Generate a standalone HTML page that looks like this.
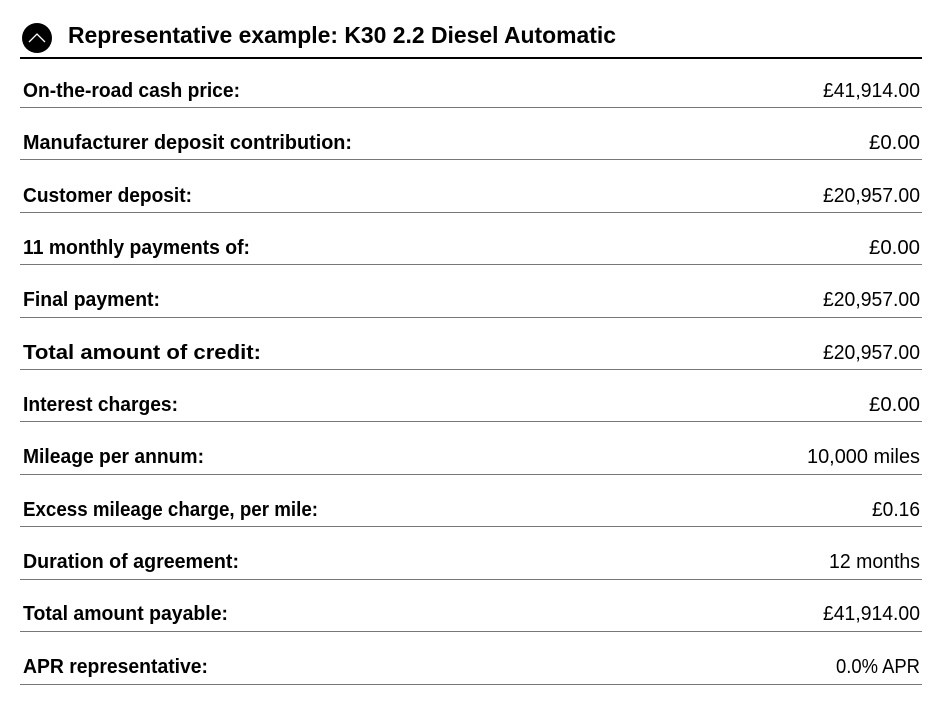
<!DOCTYPE html>
<html><head><meta charset="utf-8"><style>
html,body{margin:0;padding:0;background:#fff;}
svg{display:block;}
text{font-family:"Liberation Sans",sans-serif;fill:#000;font-size:20.5px;}
.l{font-weight:bold;}
</style></head><body>
<svg width="943" height="711" viewBox="0 0 943 711" xmlns="http://www.w3.org/2000/svg">
<circle cx="37" cy="38" r="15" fill="#000"/>
<polyline points="29,42 37,34 45,42" fill="none" stroke="#fff" stroke-width="1.3"/>
<text x="68" y="43" class="l" style="font-size:23.5px" textLength="548" lengthAdjust="spacingAndGlyphs">Representative example: K30 2.2 Diesel Automatic</text>
<rect x="20" y="57" width="902" height="2" fill="#000"/>
<g stroke="#777" stroke-width="1">
<line x1="20" x2="922" y1="107.5" y2="107.5"/>
<line x1="20" x2="922" y1="159.5" y2="159.5"/>
<line x1="20" x2="922" y1="212.5" y2="212.5"/>
<line x1="20" x2="922" y1="264.5" y2="264.5"/>
<line x1="20" x2="922" y1="317.5" y2="317.5"/>
<line x1="20" x2="922" y1="369.5" y2="369.5"/>
<line x1="20" x2="922" y1="421.5" y2="421.5"/>
<line x1="20" x2="922" y1="474.5" y2="474.5"/>
<line x1="20" x2="922" y1="526.5" y2="526.5"/>
<line x1="20" x2="922" y1="579.5" y2="579.5"/>
<line x1="20" x2="922" y1="631.5" y2="631.5"/>
<line x1="20" x2="922" y1="684.5" y2="684.5"/>
</g>
<g class="l">
<text class="l" x="23" y="97" textLength="217" lengthAdjust="spacingAndGlyphs">On-the-road cash price:</text>
<text class="l" x="23" y="149" textLength="329" lengthAdjust="spacingAndGlyphs">Manufacturer deposit contribution:</text>
<text class="l" x="23" y="202" textLength="169" lengthAdjust="spacingAndGlyphs">Customer deposit:</text>
<text class="l" x="23" y="254" textLength="227" lengthAdjust="spacingAndGlyphs">11 monthly payments of:</text>
<text class="l" x="23" y="306" textLength="137" lengthAdjust="spacingAndGlyphs">Final payment:</text>
<text class="l" x="23" y="359" textLength="238" lengthAdjust="spacingAndGlyphs">Total amount of credit:</text>
<text class="l" x="23" y="411" textLength="155" lengthAdjust="spacingAndGlyphs">Interest charges:</text>
<text class="l" x="23" y="463" textLength="181" lengthAdjust="spacingAndGlyphs">Mileage per annum:</text>
<text class="l" x="23" y="516" textLength="295" lengthAdjust="spacingAndGlyphs">Excess mileage charge, per mile:</text>
<text class="l" x="23" y="568" textLength="216" lengthAdjust="spacingAndGlyphs">Duration of agreement:</text>
<text class="l" x="23" y="620" textLength="205" lengthAdjust="spacingAndGlyphs">Total amount payable:</text>
<text class="l" x="23" y="673" textLength="185" lengthAdjust="spacingAndGlyphs">APR representative:</text>
</g>
<g>
<text x="823" y="97" textLength="97" lengthAdjust="spacingAndGlyphs">£41,914.00</text>
<text x="869" y="149" textLength="51" lengthAdjust="spacingAndGlyphs">£0.00</text>
<text x="823" y="202" textLength="97" lengthAdjust="spacingAndGlyphs">£20,957.00</text>
<text x="869" y="254" textLength="51" lengthAdjust="spacingAndGlyphs">£0.00</text>
<text x="823" y="306" textLength="97" lengthAdjust="spacingAndGlyphs">£20,957.00</text>
<text x="823" y="359" textLength="97" lengthAdjust="spacingAndGlyphs">£20,957.00</text>
<text x="869" y="411" textLength="51" lengthAdjust="spacingAndGlyphs">£0.00</text>
<text x="807" y="463" textLength="113" lengthAdjust="spacingAndGlyphs">10,000 miles</text>
<text x="872" y="516" textLength="48" lengthAdjust="spacingAndGlyphs">£0.16</text>
<text x="829" y="568" textLength="91" lengthAdjust="spacingAndGlyphs">12 months</text>
<text x="823" y="620" textLength="97" lengthAdjust="spacingAndGlyphs">£41,914.00</text>
<text x="836" y="673" textLength="84" lengthAdjust="spacingAndGlyphs">0.0% APR</text>
</g>
</svg>
</body></html>
